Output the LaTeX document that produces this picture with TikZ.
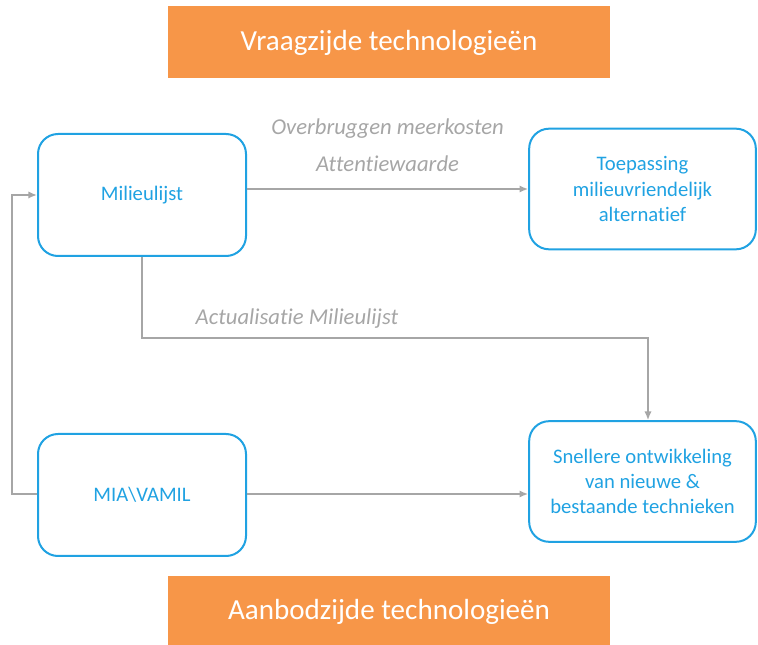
\documentclass[tikz,border=0pt]{standalone}
\usepackage{fontspec}
\setmainfont{Carlito}[Ligatures={NoCommon}]
\usetikzlibrary{arrows.meta}
\usetikzlibrary{positioning}
\definecolor{mblue}{RGB}{32,162,226}
\definecolor{morange}{RGB}{247,150,72}
\definecolor{mgrey}{RGB}{166,166,166}
\tikzset{box/.style = {draw=mblue, line width=1.5pt, rounded corners=15pt,
                       text=mblue, align=center,
                       font=\fontsize{15.5}{19}\selectfont},
         banner/.style = {fill=morange, text=white, minimum width=332pt,
                          minimum height=54pt, inner sep=0pt,
                          font=\fontsize{21.8}{26}\selectfont},
         link/.style = {draw=mgrey, line width=1.5pt,
                        -{Latex[length=6.5pt, width=5.5pt]}},
         lbl/.style = {text=mgrey, font=\fontsize{17}{20}\selectfont\itshape}}

\begin{document}
\begin{tikzpicture}[x=0.75pt, y=-0.75pt]
      \useasboundingbox (0, 0) rectangle (758, 645);

      \node [banner] (vraag) at (389, 42.5) {Vraagzijde technologieën};
      \node [banner] (aanbod) at (389, 612) {Aanbodzijde technologieën};

      \node [box, minimum width=156pt, minimum height=91.5pt] (lijst) at (142, 195) {Milieulijst};
      \node [box, minimum width=156pt, minimum height=91.5pt] (mia) at (142, 495) {MIA\textbackslash VAMIL};
      \node [box, minimum width=170pt, minimum height=90.5pt] (toep) at (642.5, 189) {Toepassing\\milieuvriendelijk\\alternatief};
      \node [box, minimum width=170pt, minimum height=90.5pt] (snel) at (642.5, 481.5) {Snellere ontwikkeling\\van nieuwe \&\\bestaande technieken};

      \draw [link] (lijst.east |- toep.west) -- (toep.west)
            node [lbl, midway, yshift=19pt] {Attentiewaarde}
            node [lbl, midway, yshift=45.5pt] {Overbruggen meerkosten};
      \draw [link] (mia.east |- 0, 494) -- (snel.west |- 0, 494);

      \coordinate (act) at (142, 338);
      \coordinate (actend) at (648, 338);
      \draw [link] (lijst.south) -- (act) -- (actend) -- (actend |- snel.north);
      \node [lbl] (actlbl) at (297, 319) {Actualisatie Milieulijst};

      \coordinate (terug) at (12, 494);
      \draw [link] (mia.west |- terug) -- (terug) |- (lijst.west);
\end{tikzpicture}
\end{document}
